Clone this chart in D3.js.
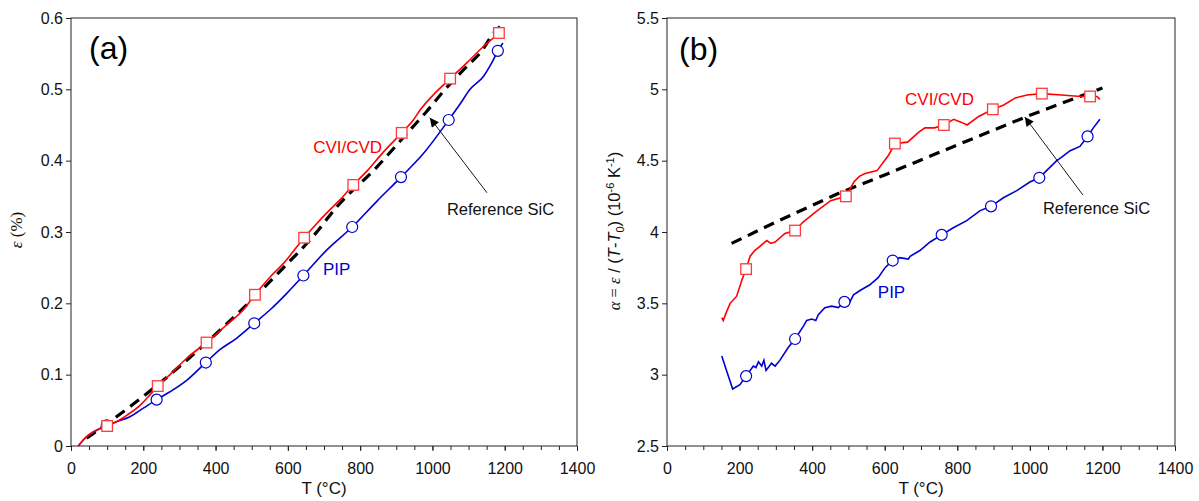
<!DOCTYPE html>
<html>
<head>
<meta charset="utf-8">
<script src="https://cdn.jsdelivr.net/npm/d3@7"></script>
<style>
  body { margin: 0; background: #fff; }
  svg { display: block; font-family: "Liberation Sans", Arial, sans-serif; }
  .ser { font-family: "Liberation Serif", "Times New Roman", serif; font-style: italic; }
</style>
</head>
<body>
<svg id="chart" width="1199" height="501"></svg>
<script>
// ---- data ----
var xTicks = [0, 200, 400, 600, 800, 1000, 1200, 1400];
var epsTicks = [0, 0.1, 0.2, 0.3, 0.4, 0.5, 0.6];
var alphaTicks = [2.5, 3, 3.5, 4, 4.5, 5, 5.5];

// panel (a): strain (%) vs T
var cviStrain = [[20,0],[39,0.011],[62,0.020],[85,0.025],[100,0.028],[126,0.034],[154,0.043],[191,0.057],
  [219,0.072],[240,0.084],[274,0.100],[320,0.123],[375,0.145],[431,0.170],[477,0.191],[509,0.212],
  [551,0.237],[588,0.256],[645,0.292],[680,0.312],[716,0.331],[744,0.345],[781,0.366],[818,0.385],
  [864,0.412],[915,0.439],[947,0.457],[966,0.471],[1002,0.492],[1030,0.506],[1049,0.515],[1095,0.537],
  [1141,0.560],[1184,0.579],[1190,0.582]];
var pipStrain = [[20,0],[43,0.013],[71,0.022],[99,0.029],[126,0.034],[163,0.041],[200,0.053],[237,0.065],
  [274,0.076],[320,0.092],[373,0.117],[412,0.135],[458,0.151],[507,0.172],[551,0.191],[597,0.214],
  [643,0.239],[708,0.275],[778,0.307],[846,0.343],[913,0.377],[975,0.410],[1045,0.457],[1076,0.479],
  [1104,0.500],[1141,0.518],[1164,0.537],[1181,0.554],[1195,0.565]];
var refStrain = [[43,0.011],[168,0.057],[283,0.104],[403,0.158],[588,0.250],[675,0.297],[735,0.335],
  [846,0.391],[929,0.438],[984,0.469],[1030,0.497],[1095,0.532],[1132,0.551],[1173,0.581],[1187,0.588]];
var cviStrainMarks = [[100,0.028],[240,0.084],[375,0.145],[509,0.212],[645,0.292],[781,0.366],[915,0.439],[1049,0.515],[1184,0.579]];
var pipStrainMarks = [[99,0.029],[237,0.065],[373,0.117],[507,0.172],[643,0.239],[778,0.307],[913,0.377],[1045,0.457],[1181,0.554]];

// panel (b): mean CTE (1e-6/K) vs T
var cviAlpha = [[151,3.40],[155,3.38],[164,3.44],[174,3.50],[192,3.55],[206,3.66],[218,3.74],[229,3.83],
  [242,3.87],[256,3.90],[275,3.94],[286,3.92],[298,3.93],[325,3.99],[353,4.01],[375,4.07],[409,4.14],
  [451,4.22],[493,4.25],[515,4.35],[530,4.39],[546,4.41],[579,4.43],[611,4.54],[628,4.62],[663,4.63],
  [694,4.70],[711,4.73],[737,4.73],[763,4.75],[790,4.79],[810,4.77],[827,4.75],[859,4.81],[898,4.86],
  [928,4.89],[960,4.94],[992,4.96],[1033,4.97],[1087,4.96],[1140,4.95],[1169,4.95],[1185,4.95],[1193,4.93]];
var pipAlpha = [[151,3.13],[164,3.03],[181,2.90],[201,2.93],[218,2.99],[238,3.06],[245,3.05],[252,3.09],
  [261,3.06],[267,3.10],[273,3.03],[288,3.08],[298,3.06],[311,3.10],[334,3.19],[353,3.25],[376,3.34],
  [385,3.38],[399,3.39],[410,3.38],[417,3.42],[435,3.47],[454,3.48],[472,3.47],[489,3.51],[500,3.49],
  [514,3.56],[532,3.59],[559,3.63],[582,3.68],[601,3.75],[622,3.80],[642,3.82],[665,3.81],[670,3.83],
  [697,3.87],[725,3.93],[757,3.98],[789,4.03],[826,4.08],[863,4.15],[893,4.18],[927,4.24],[964,4.29],
  [1000,4.35],[1026,4.38],[1046,4.43],[1074,4.50],[1085,4.52],[1111,4.57],[1138,4.60],[1159,4.67],
  [1175,4.73],[1193,4.79]];
var refAlpha = [[178,3.92],[300,4.07],[472,4.27],[600,4.40],[800,4.61],[992,4.81],[1200,5.01]];
var cviAlphaMarks = [[218,3.74],[353,4.01],[493,4.25],[628,4.62],[763,4.75],[898,4.86],[1033,4.97],[1166,4.95]];
var pipAlphaMarks = [[218,2.99],[353,3.25],[489,3.51],[622,3.80],[757,3.98],[893,4.18],[1026,4.38],[1159,4.67]];

var RED = "#ff0000", BLUE = "#0000d0";
var svg = d3.select("#chart");

svg.append("defs").append("marker")
  .attr("id", "head").attr("viewBox", "0 0 10 10")
  .attr("refX", 10).attr("refY", 5)
  .attr("markerWidth", 13).attr("markerHeight", 9)
  .attr("markerUnits", "userSpaceOnUse")
  .attr("orient", "auto")
  .append("path").attr("d", "M0,0L10,5L0,10Z").attr("fill", "#000");

function panel(p) {
  var x = d3.scaleLinear().domain([0, 1400]).range([p.left, p.right]);
  var y = d3.scaleLinear().domain(p.yDomain).range([446, 18]);
  var g = svg.append("g");

  // box
  g.append("rect").attr("x", p.left).attr("y", 18)
    .attr("width", p.right - p.left).attr("height", 428)
    .attr("fill", "none").attr("stroke", "#222").attr("stroke-width", 1);

  // minor x ticks
  g.append("g").attr("transform", "translate(0,446)")
    .call(d3.axisBottom(x).tickValues(d3.range(0, 1401, 50)).tickSize(4).tickFormat(""))
    .call(function(s) { s.select(".domain").remove(); s.selectAll("line").attr("stroke", "#222"); });

  var xa = g.append("g").attr("transform", "translate(0,446)")
    .call(d3.axisBottom(x).tickValues(xTicks).tickSize(5).tickPadding(3).tickFormat(d3.format("d")));
  xa.select(".domain").remove();
  xa.selectAll("line").attr("stroke", "#222");
  xa.selectAll("text").attr("font-size", 16).attr("fill", "#111")
    .attr("font-family", "Liberation Sans, Arial, sans-serif").attr("y", 28).attr("dy", 0);

  var ya = g.append("g").attr("transform", "translate(" + p.left + ",0)")
    .call(d3.axisLeft(y).tickValues(p.yTicks).tickSize(5).tickPadding(3).tickFormat(d3.format("")));
  ya.select(".domain").remove();
  ya.selectAll("line").attr("stroke", "#222");
  ya.selectAll("text").attr("font-size", 16).attr("fill", "#111")
    .attr("font-family", "Liberation Sans, Arial, sans-serif");

  var line = d3.line().x(function(d) { return x(d[0]); }).y(function(d) { return y(d[1]); }).curve(p.curve);

  g.append("path").datum(p.ref).attr("d", line).attr("fill", "none")
    .attr("stroke", "#000").attr("stroke-width", 3.2).attr("stroke-dasharray", "11,7");
  g.append("path").datum(p.pip).attr("d", line).attr("fill", "none")
    .attr("stroke", BLUE).attr("stroke-width", 1.6);
  g.append("path").datum(p.cvi).attr("d", line).attr("fill", "none")
    .attr("stroke", RED).attr("stroke-width", 1.6);

  g.selectAll(".pipm").data(p.pipMarks).enter().append("circle")
    .attr("cx", function(d) { return x(d[0]); }).attr("cy", function(d) { return y(d[1]); })
    .attr("r", 5.5).attr("fill", "#fff").attr("stroke", BLUE).attr("stroke-width", 1.2);
  g.selectAll(".cvim").data(p.cviMarks).enter().append("rect")
    .attr("x", function(d) { return x(d[0]) - 5.3; }).attr("y", function(d) { return y(d[1]) - 5.3; })
    .attr("width", 10.6).attr("height", 10.6)
    .attr("fill", "#fff").attr("stroke", "#ff3a3a").attr("stroke-width", 1.3);

  // annotations
  g.append("line")
    .attr("x1", x(p.arrow[0][0])).attr("y1", y(p.arrow[0][1]))
    .attr("x2", x(p.arrow[1][0])).attr("y2", y(p.arrow[1][1]))
    .attr("stroke", "#000").attr("stroke-width", 0.9).attr("marker-end", "url(#head)");
  g.append("text").attr("x", x(p.refLab[0])).attr("y", y(p.refLab[1])).attr("dy", "0.36em")
    .attr("font-size", 16.5).attr("fill", "#111").text("Reference SiC");
  g.append("text").attr("x", x(p.cviLab[0])).attr("y", y(p.cviLab[1])).attr("dy", "0.36em")
    .attr("font-size", 17).attr("fill", RED).text("CVI/CVD");
  g.append("text").attr("x", x(p.pipLab[0])).attr("y", y(p.pipLab[1])).attr("dy", "0.36em")
    .attr("font-size", 17).attr("fill", BLUE).text("PIP");
  g.append("text").attr("x", x(p.tag[0])).attr("y", y(p.tag[1])).attr("dy", "0.36em")
    .attr("font-size", 32).attr("fill", "#000").text(p.name);

  g.append("text").attr("x", (p.left + p.right) / 2).attr("y", 494)
    .attr("text-anchor", "middle").attr("font-size", 17).attr("fill", "#111").text("T (\u00b0C)");
  return g;
}

panel({
  left: 71, right: 577, yDomain: [0, 0.6], yTicks: epsTicks, curve: d3.curveMonotoneX,
  cvi: cviStrain, pip: pipStrain, ref: refStrain, cviMarks: cviStrainMarks, pipMarks: pipStrainMarks,
  arrow: [[1151, 0.355], [993, 0.46]], refLab: [1040, 0.332], cviLab: [670, 0.42], pipLab: [697, 0.248],
  tag: [50, 0.558], name: "(a)"
});
panel({
  left: 667, right: 1175, yDomain: [2.5, 5.5], yTicks: alphaTicks, curve: d3.curveLinear,
  cvi: cviAlpha, pip: pipAlpha, ref: refAlpha, cviMarks: cviAlphaMarks, pipMarks: pipAlphaMarks,
  arrow: [[1146, 4.26], [986, 4.806]], refLab: [1036, 4.169], cviLab: [656, 4.93], pipLab: [581, 3.582],
  tag: [33, 5.283], name: "(b)"
});

// y axis titles
var t1 = svg.append("text").attr("transform", "translate(22,230) rotate(-90)")
  .attr("text-anchor", "middle").attr("font-size", 17).attr("fill", "#111");
t1.append("tspan").attr("class", "ser").text("\u03b5");
t1.append("tspan").attr("font-family", "Liberation Serif, serif").text(" (%)");

var t2 = svg.append("text").attr("transform", "translate(620,231) rotate(-90)")
  .attr("text-anchor", "middle").attr("font-size", 16.5).attr("fill", "#111");
t2.append("tspan").attr("class", "ser").text("\u03b1");
t2.append("tspan").attr("font-family", "Liberation Serif, serif").text(" = ");
t2.append("tspan").attr("class", "ser").text("\u03b5");
t2.append("tspan").text(" / (");
t2.append("tspan").attr("font-style", "italic").text("T");
t2.append("tspan").text("-");
t2.append("tspan").attr("font-style", "italic").text("T");
t2.append("tspan").attr("font-size", 11).attr("dy", 4).text("0");
t2.append("tspan").attr("dy", -4).text(") (10");
t2.append("tspan").attr("font-size", 11).attr("dy", -6).text("-6");
t2.append("tspan").attr("dy", 6).text(" K");
t2.append("tspan").attr("font-size", 11).attr("dy", -6).text("-1");
t2.append("tspan").attr("dy", 6).text(")");
</script>
</body>
</html>
